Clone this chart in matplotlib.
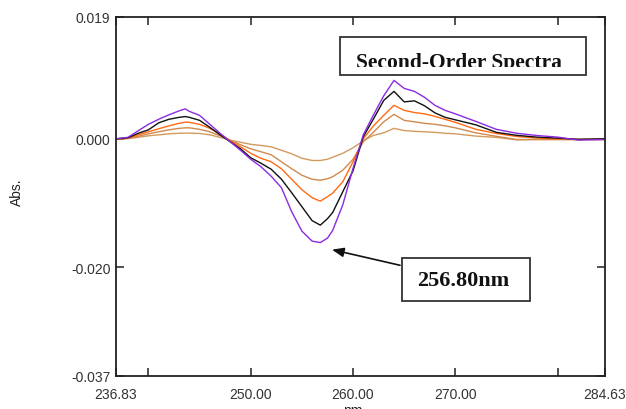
import matplotlib
matplotlib.use('Agg')
import matplotlib.pyplot as plt
from matplotlib.patches import Rectangle

# ---------------- data ----------------
wavelength = [236.83, 238, 239, 240, 241, 242, 243, 243.6, 244, 245, 246, 247, 248, 249,
              250, 251, 252, 253, 254, 255, 256, 256.8, 257.5, 258, 259, 260, 261, 262,
              263, 264, 265, 266, 267, 268, 269, 270, 272, 274, 276, 278, 280, 282, 284.63]

abs_purple = [0, 0.00023, 0.00125, 0.00226, 0.00304, 0.00374, 0.00436, 0.00467, 0.00428, 0.00366,
              0.00226, 0.00086, -0.00047, -0.00179, -0.00319, -0.00436, -0.00584, -0.00763,
              -0.01137, -0.01440, -0.01596, -0.01619, -0.01549, -0.01432, -0.01028, -0.00459,
              0.00062, 0.00374, 0.00670, 0.00911, 0.00786, 0.00740, 0.00646, 0.00522, 0.00444,
              0.00389, 0.00272, 0.00148, 0.00086, 0.00051, 0.00026, -0.00020, -0.00011]
abs_black = [0, 0.00016, 0.00086, 0.00140, 0.00249, 0.00304, 0.00335, 0.00347, 0.00335, 0.00288,
             0.00179, 0.00062, -0.00047, -0.00156, -0.00296, -0.00381, -0.00475, -0.00630,
             -0.00841, -0.01059, -0.01277, -0.01347, -0.01246, -0.01152, -0.00825, -0.00498,
             0.00031, 0.00311, 0.00599, 0.00740, 0.00576, 0.00592, 0.00514, 0.00405, 0.00335,
             0.00296, 0.00218, 0.00101, 0.00054, 0.00026, 0.00011, -0.00008, 0]
abs_orange = [0, 0.00008, 0.00062, 0.00109, 0.00156, 0.00202, 0.00241, 0.00260, 0.00257, 0.00226,
              0.00163, 0.00078, -0.00031, -0.00125, -0.00226, -0.00304, -0.00358, -0.00467,
              -0.00631, -0.00794, -0.00919, -0.00973, -0.00903, -0.00849, -0.00670, -0.00358,
              0, 0.00202, 0.00366, 0.00522, 0.00444, 0.00410, 0.00389, 0.00350, 0.00304,
              0.00257, 0.00148, 0.00083, 0.00036, 0.00011, 0, -0.00011, -0.00011]
abs_tan1 = [0, 0.00005, 0.00039, 0.00078, 0.00109, 0.00140, 0.00163, 0.00171, 0.00171, 0.00148,
            0.00109, 0.00047, -0.00023, -0.00093, -0.00156, -0.00202, -0.00249, -0.00358,
            -0.00467, -0.00568, -0.00631, -0.00646, -0.00623, -0.00592, -0.00490, -0.00319,
            -0.00047, 0.00104, 0.00265, 0.00381, 0.00288, 0.00265, 0.00241, 0.00226, 0.00202,
            0.00171, 0.00093, 0.00039, -0.00011, -0.00011, -0.00011, -0.00011, -0.00011]
abs_tan2 = [0, 0.00005, 0.00023, 0.00047, 0.00062, 0.00078, 0.00086, 0.00089, 0.00089, 0.00083,
            0.00062, 0.00023, -0.00023, -0.00054, -0.00086, -0.00104, -0.00125, -0.00179,
            -0.00234, -0.00304, -0.00338, -0.00338, -0.00319, -0.00288, -0.00226, -0.00140,
            -0.00031, 0.00054, 0.00093, 0.00163, 0.00129, 0.00117, 0.00109, 0.00101, 0.00086,
            0.00078, 0.00042, 0.00023, -0.00016, -0.00011, -0.00011, -0.00011, 0]

series = [(abs_tan2, '#d39a5e'), (abs_tan1, '#cf8a4c'), (abs_orange, '#ff6a12'),
          (abs_black, '#111111'), (abs_purple, '#8a2be2')]

x_ticks = [236.83, 240, 250, 260, 270, 280, 284.63]
x_labels = ['236.83', '', '250.00', '260.00', '270.00', '', '284.63']
y_ticks = [0.019, 0.0, -0.020, -0.037]
y_labels = ['0.019', '0.000', '-0.020', '-0.037']

peak_nm = 257.94
peak_abs = -0.01729
# ------------------------------------------------------------

plt.rcParams['font.family'] = ['Liberation Sans', 'DejaVu Sans']

fig = plt.figure(figsize=(6.26, 4.10), dpi=100)
ax = fig.add_axes([0.1853, 0.0805, 0.7812, 0.8756])

for vals, col in series:
    ax.plot(wavelength, vals, color=col, lw=1.0)

ax.set_xlim(236.83, 284.63)
ax.set_ylim(-0.037, 0.019)

ax.set_xticks(x_ticks)
ax.set_xticklabels(x_labels)
ax.set_yticks(y_ticks)
ax.set_yticklabels(y_labels)
ax.tick_params(direction='in', length=5.5, width=1.1, labelsize=10, labelcolor='#333333',
               top=True, right=True, color='#222222')
ax.tick_params(axis='x', pad=8)
ax.tick_params(axis='y', pad=4)

for sp in ax.spines.values():
    sp.set_linewidth(1.3)
    sp.set_color('#222222')

fig.text(17 / 626, 1 - 192 / 410, 'Abs.', rotation=90, ha='center', va='center',
         fontsize=10, color='#222222')
ax.set_xlabel('nm', fontsize=10, color='#222222')
ax.xaxis.set_label_coords(0.485, -0.074)

# title box, with the lower part of its text cut off
ax.add_patch(Rectangle((0.458, 0.838), 0.503, 0.106, transform=ax.transAxes,
                       fill=False, lw=1.3, edgecolor='#333333', zorder=5))
clip = Rectangle((0.458, 0.8615), 0.503, 0.08, transform=ax.transAxes,
                 fill=False, lw=0, visible=False)
ax.add_patch(clip)
t = ax.text(0.701, 0.8615, 'Second-Order Spectra', transform=ax.transAxes, ha='center',
            va='baseline', fontsize=15.5, fontweight='bold', family='Liberation Serif',
            color='#111111', zorder=6, clip_on=True)
t.set_clip_path(clip)

# peak label
ax.add_patch(Rectangle((0.585, 0.209), 0.262, 0.120, transform=ax.transAxes,
                       facecolor='white', lw=1.3, edgecolor='#333333', zorder=5))
ax.text(0.7096, 0.267, '256.80nm', transform=ax.transAxes, ha='center', va='center',
        fontsize=16, fontweight='bold', family='Liberation Serif', color='#111111', zorder=6)
ax.annotate('', xy=(peak_nm, peak_abs), xytext=(264.59, -0.01973),
            arrowprops=dict(arrowstyle='-|>,head_length=0.7,head_width=0.28', lw=1.2,
                            color='#111111', shrinkA=0, shrinkB=0))

fig.savefig('out.png', dpi=100)
